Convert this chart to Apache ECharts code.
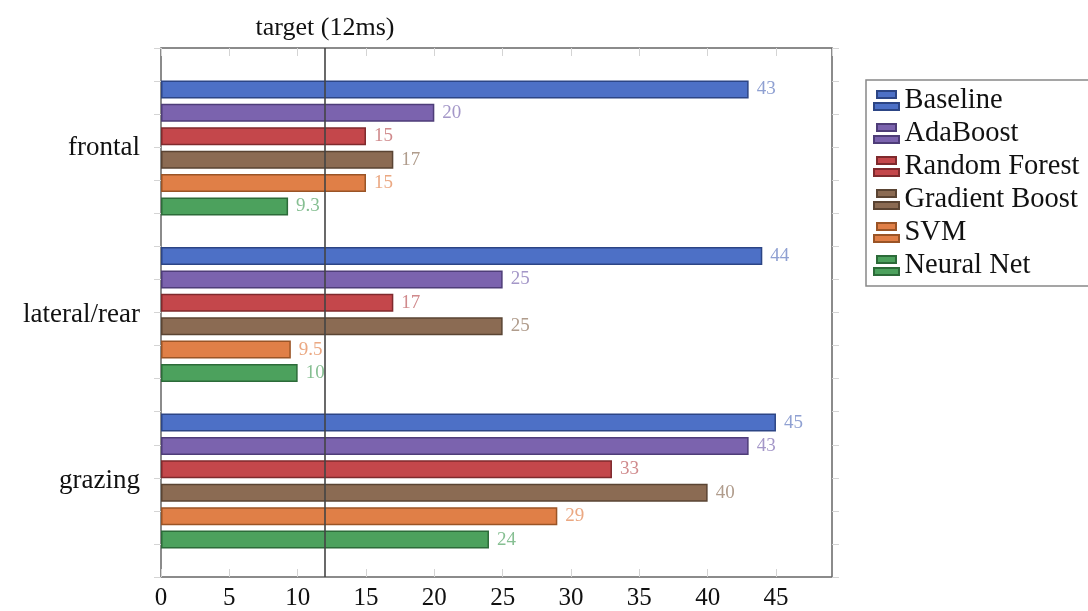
<!DOCTYPE html>
<html>
<head>
<meta charset="utf-8">
<script src="https://cdn.jsdelivr.net/npm/echarts@6/dist/echarts.min.js"></script>
<style>html,body{margin:0;padding:0;background:#fff}#c{width:1088px;height:611px}</style>
</head>
<body>
<div id="c"></div>
<script>
const categories = ['frontal', 'lateral/rear', 'grazing'];
const seriesNames = ['Baseline', 'AdaBoost', 'Random Forest', 'Gradient Boost', 'SVM', 'Neural Net'];
const baseline = [43, 44, 45];
const adaBoost = [20, 25, 43];
const randomForest = [15, 17, 33];
const gradientBoost = [17, 25, 40];
const svm = [15, 9.5, 29];
const neuralNet = [9.3, 10, 24];
const targetValue = 12;
const targetLabel = 'target (12ms)';
const xTicks = [0, 5, 10, 15, 20, 25, 30, 35, 40, 45];

const values = [baseline, adaBoost, randomForest, gradientBoost, svm, neuralNet];
const fills = ['#4d70c6', '#7b63ae', '#c4474b', '#8b6b53', '#e07f47', '#4ca15d'];
const borders = ['#2c4585', '#4e3d78', '#7f2a2d', '#5a4433', '#9a5426', '#2c6b39'];
const labelColors = ['#8fa0d2', '#a497c8', '#d08a8c', '#b09c8c', '#eba882', '#86bf92'];

const FONT = 'Liberation Serif';
const XMAX = 49.1;

const chart = echarts.init(document.getElementById('c'), null, {renderer: 'canvas'});

const barSeries = seriesNames.map((n, i) => ({
  name: n,
  type: 'bar',
  xAxisIndex: 0,
  yAxisIndex: 0,
  data: values[i],
  barWidth: 18,
  barGap: '30%',
  itemStyle: {color: fills[i], borderColor: borders[i], borderWidth: 1.5},
  label: {
    show: true,
    position: 'right',
    distance: 8,
    fontFamily: FONT,
    fontSize: 19,
    color: labelColors[i]
  },
  emphasis: {disabled: true},
  animation: false
}));

const option = {
  animation: false,
  backgroundColor: '#fff',
  grid: [
    {left: 161, right: 256, top: 64.7, bottom: 46.7},
    {left: 161, right: 256, top: 48, bottom: 30, show: true, borderColor: '#666', borderWidth: 1.5, backgroundColor: 'transparent'}
  ],
  legend: {
    data: seriesNames,
    orient: 'vertical',
    left: 866,
    top: 80,
    padding: [6, 12, 6, 7],
    itemGap: 4,
    itemWidth: 26,
    itemHeight: 19,
    icon: 'path://M3,0H22V7H3Z M0,12H25V19H0Z',
    borderColor: '#888',
    borderWidth: 1.5,
    textStyle: {fontFamily: FONT, fontSize: 28.5, color: '#111', lineHeight: 27, padding: [0, 0, 0, 0]}
  },
  xAxis: [
    {gridIndex: 0, type: 'value', min: 0, max: XMAX, show: false},
    {
      gridIndex: 1, type: 'value', min: 0, max: XMAX, interval: 5, position: 'bottom',
      axisLine: {show: false, onZero: false},
      axisTick: {show: true, inside: true, length: 8, lineStyle: {color: '#d4d4d4', width: 1}},
      splitLine: {show: false},
      axisLabel: {
        margin: 9, fontFamily: FONT, fontSize: 25, color: '#111', showMaxLabel: false,
        formatter: v => (xTicks.indexOf(v) >= 0 ? String(v) : '')
      }
    },
    {
      gridIndex: 1, type: 'value', min: 0, max: XMAX, interval: 5, position: 'top',
      axisLine: {show: false, onZero: false},
      axisTick: {show: true, inside: true, length: 8, lineStyle: {color: '#d4d4d4', width: 1}},
      splitLine: {show: false},
      axisLabel: {show: false}
    }
  ],
  yAxis: [
    {
      gridIndex: 0, type: 'category', data: categories, inverse: true,
      axisLine: {show: false}, axisTick: {show: false},
      axisLabel: {margin: 21, fontFamily: FONT, fontSize: 27, color: '#111'}
    },
    {
      gridIndex: 1, type: 'value', min: -0.6, max: 2.6, interval: 0.2, position: 'left',
      axisLine: {show: false, onZero: false}, splitLine: {show: false}, axisLabel: {show: false},
      axisTick: {show: true, inside: false, length: 7, lineStyle: {color: '#d4d4d4', width: 1}}
    },
    {
      gridIndex: 1, type: 'value', min: -0.6, max: 2.6, interval: 0.2, position: 'right',
      axisLine: {show: false, onZero: false}, splitLine: {show: false}, axisLabel: {show: false},
      axisTick: {show: true, inside: false, length: 7, lineStyle: {color: '#d4d4d4', width: 1}}
    }
  ],
  series: barSeries.concat([{
    name: 'target',
    type: 'line',
    xAxisIndex: 1,
    yAxisIndex: 1,
    data: [],
    z: 10,
    markLine: {
      silent: true,
      symbol: ['none', 'none'],
      lineStyle: {color: '#444', width: 1.6, type: 'solid'},
      label: {
        show: true, position: 'end', distance: 7, formatter: targetLabel,
        fontFamily: FONT, fontSize: 26, color: '#111'
      },
      data: [{xAxis: targetValue}]
    }
  }])
};
chart.setOption(option);
</script>
</body>
</html>
